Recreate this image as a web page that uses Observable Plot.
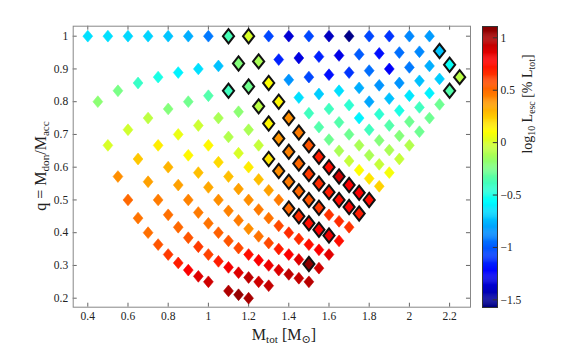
<!DOCTYPE html>
<html>
<head>
<meta charset="utf-8">
<script src="https://cdn.jsdelivr.net/npm/d3@7"></script>
<script src="https://cdn.jsdelivr.net/npm/@observablehq/plot@0.6"></script>
<style>
  html, body { margin: 0; padding: 0; background: #fff; }
  #wrap { position: relative; width: 563px; height: 347px; }
  #wrap > svg { position: absolute; left: 0; top: 0; }
</style>
</head>
<body>
<div id="wrap"></div>
<script>
// ---- data ----
const donorMass = [0.2,0.25,0.3,0.35,0.4,0.45,0.5,0.55,0.6,0.65,0.7,0.75,0.8,0.85,0.9,0.95,1.0,1.05];
const accretorMass = [
  [0.2,0.25,0.3,0.35,0.4,0.45,0.5,0.55,0.6,0.65,0.7,0.75,0.8,0.9,0.95,1.0],
  [0.25,0.3,0.35,0.4,0.45,0.5,0.55,0.6,0.65,0.7,0.75,0.8,0.85,0.9,0.95,1.0,1.05],
  [0.3,0.35,0.4,0.45,0.5,0.55,0.6,0.65,0.7,0.75,0.8,0.85,0.9,0.95,1.0,1.05,1.1,1.15,1.2],
  [0.35,0.4,0.45,0.5,0.55,0.6,0.65,0.7,0.75,0.8,0.85,0.9,0.95,1.0,1.05,1.1,1.15,1.2],
  [0.4,0.45,0.5,0.55,0.6,0.65,0.7,0.75,0.8,0.85,0.9,0.95,1.0,1.05,1.1,1.15,1.2],
  [0.45,0.5,0.55,0.6,0.65,0.7,0.75,0.8,0.85,0.9,0.95,1.0,1.05,1.1,1.15,1.2],
  [0.5,0.55,0.6,0.65,0.7,0.75,0.8,0.85,0.9,0.95,1.0,1.05,1.1,1.15,1.2],
  [0.55,0.6,0.65,0.7,0.75,0.8,0.85,0.9,0.95,1.0,1.05,1.1,1.15,1.2],
  [0.6,0.65,0.7,0.75,0.8,0.85,0.9,0.95,1.0,1.05,1.1,1.15,1.2],
  [0.65,0.7,0.75,0.8,0.85,0.9,0.95,1.0,1.05,1.1,1.15,1.2],
  [0.7,0.75,0.8,0.85,0.9,0.95,1.0,1.05,1.1,1.15,1.2],
  [0.75,0.8,0.85,0.9,0.95,1.0,1.05,1.1,1.15,1.2],
  [0.8,0.85,0.9,0.95,1.0,1.05,1.1,1.15,1.2],
  [0.85,0.9,0.95,1.0,1.05,1.1,1.15,1.2],
  [0.9,0.95,1.0,1.05,1.1,1.15,1.2],
  [0.95,1.0,1.05,1.1,1.15,1.2],
  [1.0,1.05,1.1,1.15,1.2],
  [1.05,1.1,1.15,1.2]
];
const logLesc = [
  [-0.65,-0.2,0.0,0.4,0.5,0.47,0.48,0.55,0.62,0.7,0.78,0.86,0.9,0.98,1.05,1.0],
  [-0.65,-0.25,-0.02,0.25,0.35,0.45,0.48,0.5,0.55,0.62,0.6,0.7,0.8,0.86,0.95,0.9,0.93],
  [-0.67,-0.42,-0.07,0.15,0.3,0.35,0.43,0.45,0.47,0.52,0.55,0.58,0.74,0.78,0.82,0.86,0.95,0.93,0.96],
  [-0.68,-0.5,-0.22,0.05,0.12,0.27,0.33,0.4,0.43,0.45,0.4,0.47,0.58,0.7,0.78,0.86,1.08,0.9],
  [-0.72,-0.6,-0.27,-0.03,0.12,0.2,0.27,0.35,0.4,0.45,0.47,0.58,0.66,0.66,0.74,0.78,0.85],
  [-0.78,-0.65,-0.35,-0.12,-0.1,0.0,0.15,0.27,0.35,0.45,0.5,0.66,0.74,0.78,0.82,0.74],
  [-0.92,-0.73,-0.4,-0.2,-0.12,-0.05,0.17,0.4,0.45,0.5,0.55,0.62,0.64,0.66,0.64],
  [-0.38,-0.22,-0.27,-0.08,0.12,0.38,0.43,0.5,0.62,0.66,0.7,0.74,0.76,0.7],
  [0.0,-0.12,0.1,0.12,0.4,0.45,0.55,0.7,0.74,0.9,0.78,0.78,0.74],
  [-1.05,-1.15,-0.85,-0.65,-0.4,-0.35,-0.28,-0.12,-0.05,0.1,0.17,0.22],
  [-1.35,-1.32,-1.05,-0.7,-0.4,-0.35,-0.28,-0.12,-0.12,-0.05,0.08],
  [-1.05,-1.15,-1.2,-0.65,-0.45,-0.6,-0.4,-0.22,-0.12,-0.05],
  [-1.4,-1.3,-1.1,-0.78,-0.8,-0.45,-0.35,-0.22,-0.1],
  [-1.55,-1.0,-0.95,-0.85,-0.73,-0.5,-0.28,-0.28],
  [-1.05,-1.2,-1.25,-0.85,-0.63,-0.4,-0.28],
  [-1.1,-0.95,-0.92,-0.73,-0.6,-0.28],
  [-0.88,-0.88,-0.78,-0.7,-0.35],
  [-0.83,-0.72,-0.55,-0.08]
];
// accretor masses of the highlighted (black-edged) models, per donor row
const highlightedAcc = [
  [], [], [], [1.15], [],
  [0.95,1.0,1.05,1.1,1.15],
  [0.6,0.8,0.85,0.9,0.95,1.0,1.05],
  [0.55,0.6,0.65,0.7,0.75,0.8,0.85,0.9,0.95,1.0,1.05,1.1,1.15,1.2],
  [0.6,0.65,0.7,0.75,0.8,0.85,0.9,0.95,1.0,1.05,1.1,1.15,1.2],
  [], [], [], [], [], [], [],
  [1.2],
  [1.1,1.15,1.2]
];
const xTicks = [0.4,0.6,0.8,1,1.2,1.4,1.6,1.8,2,2.2];
const yTicks = [0.2,0.3,0.4,0.5,0.6,0.7,0.8,0.9,1];
const cbTicks = [-1.5,-1,-0.5,0,0.5,1];
const xDomain = [0.3274, 2.304];
const yDomain = [0.1725, 1.0305];
const cDomain = [-1.573, 1.108];

// ---- build point table ----
const points = [];
donorMass.forEach((d, i) => {
  accretorMass[i].forEach((a, j) => {
    points.push({
      mtot: d + a,
      q: d / a,
      v: logLesc[i][j],
      hi: highlightedAcc[i].some(h => Math.abs(h - a) < 1e-9)
    });
  });
});
const plain = points.filter(p => !p.hi);
const marked = points.filter(p => p.hi);

function clamp(x) { return Math.max(0, Math.min(1, x)); }
function jet(t) {
  const r = clamp(1.5 - Math.abs(4 * t - 3));
  const g = clamp(1.5 - Math.abs(4 * t - 2));
  const b = clamp(1.5 - Math.abs(4 * t - 1));
  return `rgb(${Math.round(r*255)},${Math.round(g*255)},${Math.round(b*255)})`;
}
const colorScale = {type: "linear", domain: cDomain, interpolate: jet};

const diamondSmall = {draw(ctx) {
  const w = 4.9, h = 5.9;
  ctx.moveTo(0, -h); ctx.lineTo(w, 0); ctx.lineTo(0, h); ctx.lineTo(-w, 0); ctx.closePath();
}};
const diamondBig = {draw(ctx) {
  const w = 5.6, h = 7.1;
  ctx.moveTo(0, -h); ctx.lineTo(w, 0); ctx.lineTo(0, h); ctx.lineTo(-w, 0); ctx.closePath();
}};

const font = "'Liberation Serif', 'DejaVu Serif', serif";
const tx = 0.02, ty = 0.0122;

const main = Plot.plot({
  width: 563, height: 347,
  marginLeft: 72.7, marginRight: 93, marginTop: 25.7, marginBottom: 40.3,
  style: {fontFamily: font, fontSize: "11.5px", background: "transparent", color: "#222"},
  x: {domain: xDomain, ticks: xTicks, tickSize: 0, tickPadding: 5, tickFormat: d => String(d), label: null},
  y: {domain: yDomain, ticks: yTicks, tickSize: 0, tickPadding: 5, tickFormat: d => String(d), label: null},
  color: colorScale,
  marks: [
    Plot.ruleX(xTicks, {y1: yDomain[0], y2: yDomain[0] + ty, stroke: "#666"}),
    Plot.ruleX(xTicks, {y1: yDomain[1] - ty, y2: yDomain[1], stroke: "#666"}),
    Plot.ruleY(yTicks, {x1: xDomain[0], x2: xDomain[0] + tx, stroke: "#666"}),
    Plot.ruleY(yTicks, {x1: xDomain[1] - tx, x2: xDomain[1], stroke: "#666"}),
    Plot.dot(plain, {x: "mtot", y: "q", fill: "v", stroke: "v", strokeWidth: 0.6, symbol: diamondSmall, r: 5}),
    Plot.dot(marked, {x: "mtot", y: "q", fill: "v", stroke: "#111", strokeWidth: 2, symbol: diamondBig, r: 6}),
    Plot.frame({stroke: "#888"})
  ]
});

// colorbar
const cbStep = 0.01;
const cbBands = d3.range(cDomain[0], cDomain[1], cbStep);
const cbar = Plot.plot({
  width: 563, height: 347,
  marginLeft: 482, marginRight: 66, marginTop: 26, marginBottom: 40,
  style: {fontFamily: font, fontSize: "11.5px", background: "transparent", color: "#222"},
  x: {domain: [0, 1], axis: null},
  y: {domain: cDomain, ticks: cbTicks, axis: "right", tickSize: 0, tickPadding: 3,
      tickFormat: d => d < 0 ? "\u2212" + Math.abs(d) : String(d), label: null},
  color: colorScale,
  marks: [
    Plot.rect(cbBands, {x1: 0, x2: 1, y1: d => d, y2: d => Math.min(d + cbStep * 1.3, cDomain[1]), fill: d => d + cbStep / 2}),
    Plot.ruleY(cbTicks, {x1: 0.72, x2: 1, stroke: "#333"}),
    Plot.frame({stroke: "#333"})
  ]
});

const wrap = document.getElementById("wrap");
wrap.appendChild(main);
wrap.appendChild(cbar);

// labels with subscripts
const svg = d3.select(wrap).append("svg")
  .attr("width", 563).attr("height", 347)
  .style("font-family", font).style("fill", "#222");

function addLabel(x, y, rotate, size, parts) {
  const t = svg.append("text")
    .attr("transform", `translate(${x},${y}) rotate(${rotate})`)
    .attr("text-anchor", "middle")
    .attr("font-size", size);
  const shift = size * 0.2;
  let low = false;
  parts.forEach(([s, sub]) => {
    const span = t.append("tspan").text(s);
    if (sub) {
      span.attr("font-size", size * 0.7);
      if (!low) span.attr("dy", shift);
      low = true;
    } else {
      if (low) span.attr("dy", -shift);
      low = false;
    }
  });
}
addLabel(46, 166, -90, 16, [["q = M", 0], ["don", 1], ["/M", 0], ["acc", 1]]);
addLabel(284, 340, 0, 16, [["M", 0], ["tot", 1], [" [M", 0], ["\u2299", 1], ["]", 0]]);
addLabel(532, 104, -90, 14, [["log", 0], ["10", 1], [" L", 0], ["esc", 1], [" [% L", 0], ["tot", 1], ["]", 0]]);
</script>
</body>
</html>
